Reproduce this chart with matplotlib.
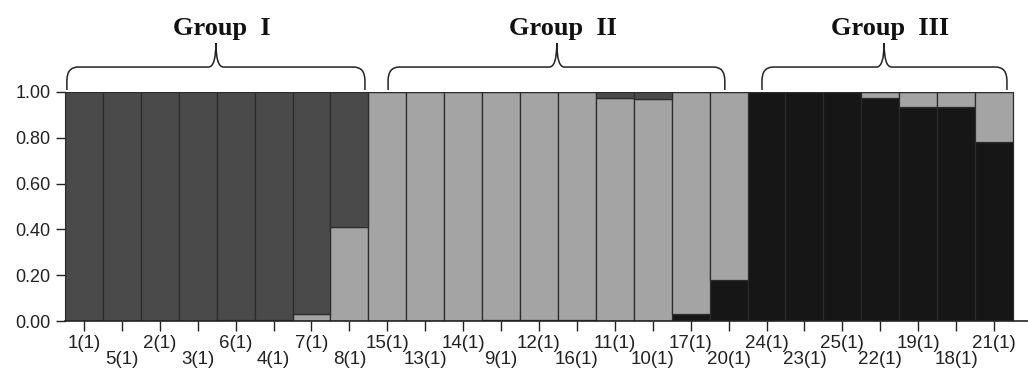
import numpy as np
import matplotlib
matplotlib.use("Agg")
import matplotlib.pyplot as plt
from matplotlib.path import Path
from matplotlib.patches import PathPatch

# individuals in plot order
labels = ['1(1)', '5(1)', '2(1)', '3(1)', '6(1)', '4(1)', '7(1)', '8(1)',
          '15(1)', '13(1)', '14(1)', '9(1)', '12(1)', '16(1)', '11(1)', '10(1)', '17(1)', '20(1)',
          '24(1)', '23(1)', '25(1)', '22(1)', '19(1)', '18(1)', '21(1)']

# membership coefficients, stacked bottom -> top: cluster3, cluster2, cluster1
cluster3 = [0, 0, 0, 0, 0.005, 0.005, 0, 0,
            0, 0, 0, 0.005, 0.005, 0.005, 0, 0, 0.03, 0.18,
            1.0, 1.0, 1.0, 0.975, 0.935, 0.935, 0.78]
cluster2 = [0, 0, 0, 0, 0, 0, 0.03, 0.41,
            1.0, 1.0, 1.0, 0.995, 0.995, 0.995, 0.975, 0.97, 0.97, 0.82,
            0, 0, 0, 0.025, 0.065, 0.065, 0.22]
cluster1 = [1.0, 1.0, 1.0, 1.0, 0.995, 0.995, 0.97, 0.59,
            0, 0, 0, 0, 0, 0, 0.025, 0.03, 0, 0,
            0, 0, 0, 0, 0, 0, 0]

groups = ['Group  I', 'Group  II', 'Group  III']
group_span = [(-0.45, 7.41, 3.48), (8.02, 16.9, 12.47), (17.88, 24.34, 21.1)]

c1, c2, c3 = '#4a4a4a', '#a4a4a4', '#161616'
edge = '#2b2b2b'

fig = plt.figure(figsize=(10.28, 3.68), dpi=100)
ax = fig.add_axes([65 / 1028, 47 / 368, 963 / 1028, 229 / 368])

x = np.arange(len(labels))
b3 = np.array(cluster3)
b2 = np.array(cluster2)
b1 = np.array(cluster1)
kw = dict(width=1.0, edgecolor=edge, linewidth=0.9)
ax.bar(x, b3, color=c3, **kw)
ax.bar(x, b2, bottom=b3, color=c2, **kw)
ax.bar(x, b1, bottom=b3 + b2, color=c1, **kw)

ax.set_xlim(-0.5, 24.5 + 15 / 37.92)
ax.set_ylim(0, 1.0)
ax.set_yticks(np.arange(0, 1.01, 0.2))
ax.set_yticklabels(['%.2f' % v for v in np.arange(0, 1.01, 0.2)],
                   family='Liberation Sans', fontsize=13, color='#222222')

ax.set_xticks(x[::2])
ax.set_xticklabels(labels[::2], family='Liberation Sans', fontsize=13.5, color='#222222')
ax.set_xticks(x[1::2], minor=True)
ax.set_xticklabels(labels[1::2], minor=True, family='Liberation Sans', fontsize=13.5,
                   color='#222222')
ax.tick_params(axis='x', which='both', length=7, width=1, color='#222222')
ax.tick_params(axis='x', which='major', pad=3)
ax.tick_params(axis='x', which='minor', pad=14.5)
ax.tick_params(axis='y', length=6.5, width=1, pad=4, color='#222222')

for s in ['top', 'right']:
    ax.spines[s].set_visible(False)
ax.spines['left'].set_color(edge)
ax.spines['bottom'].set_color('#222222')
ax.spines['bottom'].set_linewidth(1.2)


def brace(ax, xa, xb, xm, y0=1.009, y1=1.109, y2=1.214):
    rx, rm = 0.3, 0.2
    dy = 0.06
    verts = [(xa, y0), (xa, y1 - dy), (xa, y1), (xa + rx, y1),
             (xm - rm, y1), (xm, y1), (xm, y2),
             (xm, y1), (xm + rm, y1),
             (xb - rx, y1), (xb, y1), (xb, y1 - dy), (xb, y0)]
    codes = [Path.MOVETO, Path.LINETO, Path.CURVE3, Path.CURVE3,
             Path.LINETO, Path.CURVE3, Path.CURVE3,
             Path.CURVE3, Path.CURVE3,
             Path.LINETO, Path.CURVE3, Path.CURVE3, Path.LINETO]
    p = PathPatch(Path(verts, codes), fill=False, edgecolor='#222222', lw=1.1,
                  clip_on=False)
    ax.add_patch(p)


for name, (xa, xb, xm) in zip(groups, group_span):
    brace(ax, xa, xb, xm)
    ax.text(xm + 0.15, 1.25, name, family='Liberation Serif', fontweight='bold',
            fontsize=19, ha='center', va='baseline', color='#111111', clip_on=False)

fig.savefig('out.png', dpi=100)
